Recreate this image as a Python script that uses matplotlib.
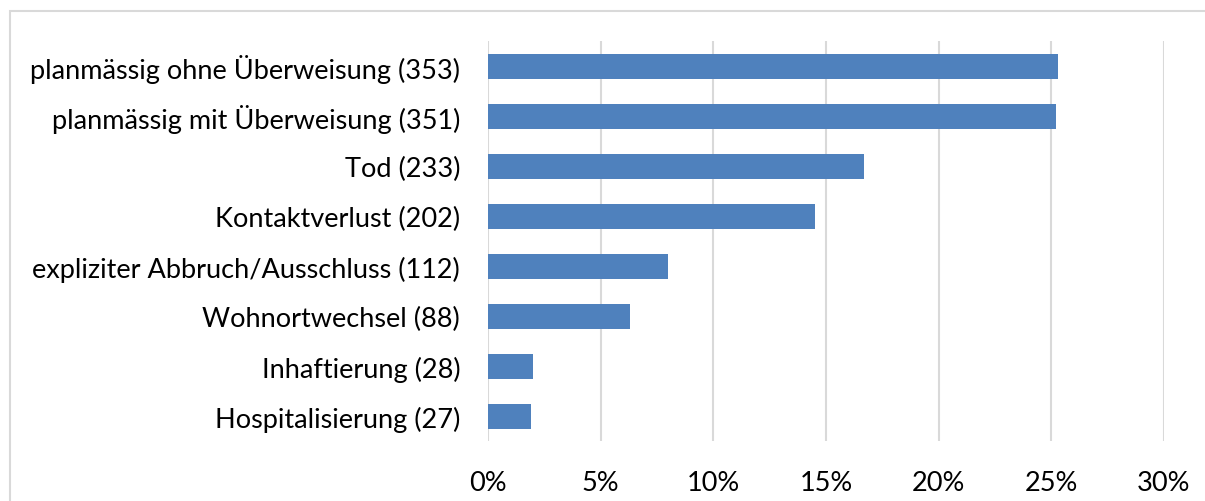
import matplotlib
matplotlib.use("Agg")
import matplotlib.pyplot as plt
from matplotlib.patches import Rectangle

categories = [
    "planmässig ohne Überweisung (353)",
    "planmässig mit Überweisung (351)",
    "Tod (233)",
    "Kontaktverlust (202)",
    "expliziter Abbruch/Ausschluss (112)",
    "Wohnortwechsel (88)",
    "Inhaftierung (28)",
    "Hospitalisierung (27)",
]
percent = [25.3, 25.2, 16.7, 14.5, 8.0, 6.3, 2.0, 1.9]
xticks = [0, 5, 10, 15, 20, 25, 30]
xtick_labels = ["0%", "5%", "10%", "15%", "20%", "25%", "30%"]

W, H = 1205, 502
fig = plt.figure(figsize=(W / 100, H / 100), dpi=100)
plt.rcParams["font.family"] = ["Lato", "DejaVu Sans"]

# outer chart border (extends beyond right and bottom edges)
fig.patches.append(Rectangle((10 / W, -0.2), 1.2, 0.2 + (H - 12) / H, transform=fig.transFigure,
                             fill=False, edgecolor="#D9D9D9", linewidth=1.5))

ax = fig.add_axes([488 / W, (H - 442) / H, (1164 - 488) / W, 400 / H])
y = list(range(len(categories)))
ax.barh(y, percent, height=0.5, color="#4F81BD", zorder=3)
ax.set_ylim(len(categories) - 0.5, -0.5)
ax.set_xlim(0, 30)
ax.set_xticks(xticks)
ax.set_xticklabels(xtick_labels, fontsize=19.5)
ax.set_yticks(y)
ax.set_yticklabels(categories, fontsize=19.5)
ax.grid(axis="x", color="#D9D9D9", linewidth=1.5, zorder=0)
for s in ax.spines.values():
    s.set_visible(False)
ax.tick_params(axis="both", length=0)
ax.tick_params(axis="x", pad=21)
ax.tick_params(axis="y", pad=20)

fig.savefig("out.png", dpi=100)
